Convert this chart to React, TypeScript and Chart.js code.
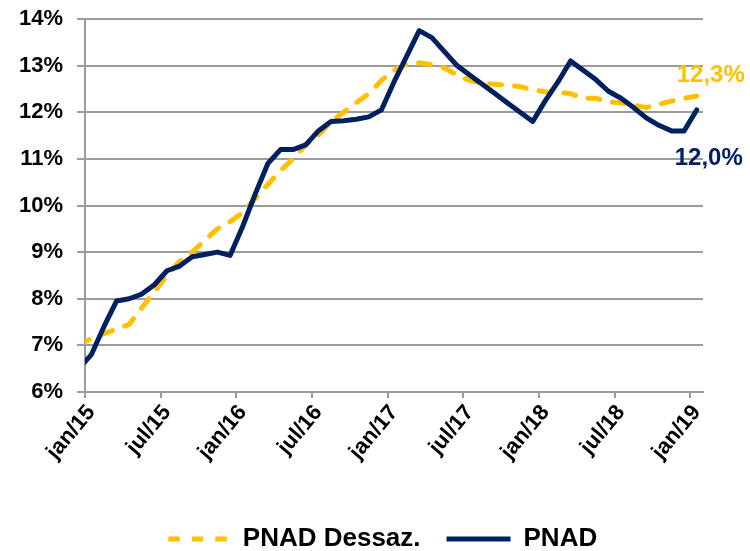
import React, { useEffect, useRef } from "react";
import { Chart, registerables } from "chart.js";

Chart.register(...registerables);

// Monthly categories (first one only feeds the line entering the plot edge)
const CATEGORIES = [
  "dez/14",
  "jan/15", "fev/15", "mar/15", "abr/15", "mai/15", "jun/15", "jul/15", "ago/15", "set/15", "out/15", "nov/15", "dez/15",
  "jan/16", "fev/16", "mar/16", "abr/16", "mai/16", "jun/16", "jul/16", "ago/16", "set/16", "out/16", "nov/16", "dez/16",
  "jan/17", "fev/17", "mar/17", "abr/17", "mai/17", "jun/17", "jul/17", "ago/17", "set/17", "out/17", "nov/17", "dez/17",
  "jan/18", "fev/18", "mar/18", "abr/18", "mai/18", "jun/18", "jul/18", "ago/18", "set/18", "out/18", "nov/18", "dez/18",
  "jan/19",
];

const PNAD_DESSAZ = [
  7.0,
  7.15, 7.25, 7.35, 7.45, 7.8, 8.15, 8.5, 8.8, 9.0, 9.25, 9.5, 9.65,
  9.85, 10.15, 10.45, 10.75, 11.0, 11.3, 11.5, 11.8, 12.0, 12.2, 12.4, 12.68,
  12.9, 13.03, 13.06, 13.02, 12.95, 12.8, 12.68, 12.62, 12.6, 12.58, 12.55, 12.48,
  12.44, 12.42, 12.4, 12.3, 12.3, 12.22, 12.2, 12.15, 12.1, 12.17, 12.24, 12.3,
  12.35,
];

const PNAD = [
  6.5,
  6.8, 7.4, 7.95, 8.0, 8.1, 8.3, 8.6, 8.7, 8.9, 8.95, 9.0, 8.93,
  9.55, 10.25, 10.9, 11.2, 11.2, 11.3, 11.6, 11.8, 11.82, 11.85, 11.9, 12.05,
  12.65, 13.2, 13.75, 13.6, 13.3, 13.0, 12.8, 12.6, 12.4, 12.2, 12.0, 11.8,
  12.25, 12.65, 13.1, 12.9, 12.7, 12.45, 12.3, 12.1, 11.88, 11.72, 11.6, 11.6,
  12.05,
];

const SERIES_NAMES = ["PNAD Dessaz.", "PNAD"];
const END_LABELS = ["12,3%", "12,0%"];
const Y_MIN = 6;
const Y_MAX = 14;
const Y_STEP = 1;

const YELLOW = "#FFC000";
const NAVY = "#002060";
const GRID = "#9c9c9c";
const FONT = "'Liberation Sans', Arial, sans-serif";

// legend symbol dash: three dashes on the 64px sample (forward + return stroke)
const LEGEND_DASH = [11.5, 12, 11.5, 12, 11.5, 6, 11.5, 12, 11.5, 12, 11.5, 5];
const LEGEND_DASH_OFFSET = 125.5;

const endLabelPlugin = {
  id: "endLabels",
  afterLayout(chart: any) {
    // centre the legend across the whole canvas width, as in the reference
    if (chart.legend) {
      chart.legend.left = 13;
      chart.legend.right = 750;
    }
  },
  afterDatasetsDraw(chart: any) {
    const { ctx, scales } = chart;
    const xs = scales.x;
    const ys = scales.y;
    const last = CATEGORIES.length - 1;
    const px = xs.getPixelForValue(last);
    ctx.save();
    ctx.font = `bold 24px ${FONT}`;
    ctx.textAlign = "left";
    ctx.textBaseline = "alphabetic";
    ctx.fillStyle = YELLOW;
    ctx.fillText(END_LABELS[0], px - 20, ys.getPixelForValue(PNAD_DESSAZ[last]) - 14);
    ctx.fillStyle = NAVY;
    ctx.fillText(END_LABELS[1], px - 22, ys.getPixelForValue(PNAD[last]) + 55);
    ctx.restore();
  },
};

export default function App() {
  const canvasRef = useRef<HTMLCanvasElement | null>(null);

  useEffect(() => {
    if (!canvasRef.current) return;
    const isShown = (l: string) => l.startsWith("jan") || l.startsWith("jul");
    const baseGenerate = (Chart as any).defaults.plugins.legend.labels.generateLabels;
    const chart = new Chart(canvasRef.current, {
      type: "line",
      data: {
        labels: CATEGORIES,
        datasets: [
          {
            label: SERIES_NAMES[0],
            data: PNAD_DESSAZ,
            borderColor: YELLOW,
            backgroundColor: YELLOW,
            borderWidth: 5,
            borderDash: [12, 13],
            borderCapStyle: "round",
            borderJoinStyle: "round",
            pointRadius: 0,
            pointHoverRadius: 0,
            tension: 0,
            fill: false,
            order: 1,
          },
          {
            label: SERIES_NAMES[1],
            data: PNAD,
            borderColor: NAVY,
            backgroundColor: NAVY,
            borderWidth: 5,
            borderCapStyle: "round",
            borderJoinStyle: "round",
            pointRadius: 0,
            pointHoverRadius: 0,
            tension: 0,
            fill: false,
            order: 0,
          },
        ],
      },
      options: {
        responsive: false,
        animation: false,
        devicePixelRatio: 1,
        layout: { padding: { top: 19, right: 47, left: 0, bottom: 0 } },
        font: { family: FONT },
        plugins: {
          tooltip: { enabled: false },
          legend: {
            position: "bottom",
            labels: {
              color: "#000",
              font: { family: FONT, size: 26, weight: "bold" },
              usePointStyle: true,
              pointStyle: "line",
              pointStyleWidth: 64,
              padding: 26,
              sort: (a: any, b: any) => a.datasetIndex - b.datasetIndex,
              generateLabels: (c: any) => {
                const items = baseGenerate(c);
                items.forEach((it: any) => {
                  if (it.datasetIndex === 0) {
                    it.lineDash = LEGEND_DASH;
                    it.lineDashOffset = LEGEND_DASH_OFFSET;
                  }
                });
                return items;
              },
            },
          },
        },
        scales: {
          x: {
            type: "category",
            min: "jan/15",
            max: "jan/19",
            offset: true,
            afterFit: (scale: any) => {
              scale.height = 108;
            },
            grid: {
              offset: true,
              drawOnChartArea: false,
              drawTicks: true,
              tickLength: 6,
              lineWidth: 2,
              color: (ctx: any) =>
                ctx.tick && isShown(CATEGORIES[ctx.tick.value]) ? GRID : "rgba(0,0,0,0)",
            },
            border: { display: true, color: GRID, width: 2 },
            ticks: {
              autoSkip: false,
              maxRotation: 50,
              minRotation: 50,
              padding: 2,
              color: "#000",
              font: { family: FONT, size: 22, weight: "bold" },
              callback: function (this: any, value: any) {
                const l = this.getLabelForValue(value);
                return isShown(l) ? l : "";
              },
            },
          },
          y: {
            min: Y_MIN,
            max: Y_MAX,
            afterFit: (scale: any) => {
              scale.width = 85;
              scale.paddingTop = 0;
              scale.paddingBottom = 0;
            },
            grid: {
              color: GRID,
              lineWidth: 2,
              drawTicks: true,
              tickLength: 8,
            },
            border: { display: true, color: GRID, width: 2 },
            ticks: {
              stepSize: Y_STEP,
              padding: 14,
              color: "#000",
              font: { family: FONT, size: 22, weight: "bold" },
              callback: (v: any) => `${v}%`,
            },
          },
        },
      },
      plugins: [endLabelPlugin],
    } as any);
    return () => chart.destroy();
  }, []);

  return (
    <div style={{ position: "absolute", left: 0, top: 0, width: 750, height: 562 }}>
      <canvas ref={canvasRef} width={750} height={562} style={{ display: "block" }} />
    </div>
  );
}
